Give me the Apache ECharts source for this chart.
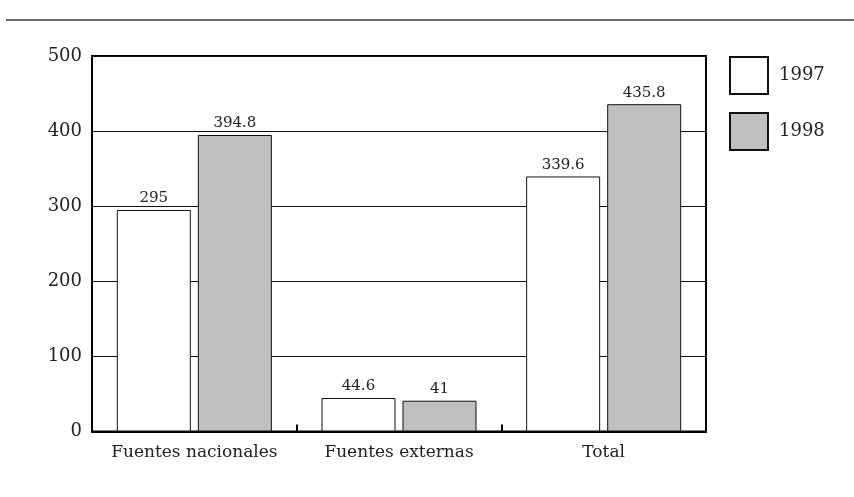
<!DOCTYPE html>
<html>
<head>
<meta charset="utf-8">
<script src="https://cdn.jsdelivr.net/npm/echarts@6/dist/echarts.min.js"></script>
<style>
  html, body { margin: 0; padding: 0; background: #fff; }
  #chart { width: 854px; height: 497px; }
</style>
</head>
<body>
<div id="chart"></div>
<script>
// Financing sources, 1997 vs 1998
const categories = ['Fuentes nacionales', 'Fuentes externas', 'Total'];
const values1997 = [295, 44.6, 339.6];
const values1998 = [394.8, 41, 435.8];
const seriesNames = ['1997', '1998'];

const FONT = '"DejaVu Serif", "Liberation Serif", serif';
const TEXT = '#222';

const chart = echarts.init(document.getElementById('chart'), null, { renderer: 'canvas' });

const barLabel = {
  show: true,
  position: 'top',
  distance: 4,
  fontFamily: FONT,
  fontSize: 15,
  color: TEXT
};

chart.setOption({
  animation: false,
  backgroundColor: '#fff',
  textStyle: { fontFamily: FONT },
  graphic: [{
    type: 'line',
    shape: { x1: 6, y1: 20, x2: 854, y2: 20 },
    style: { stroke: '#333', lineWidth: 1.5 },
    silent: true
  }],
  legend: {
    orient: 'vertical',
    left: 729,
    top: 56,
    padding: 0,
    itemWidth: 38,
    itemHeight: 37,
    itemGap: 17,
    icon: 'rect',
    textStyle: { fontFamily: FONT, fontSize: 18, color: TEXT, padding: [3, 0, 0, 6] },
    data: seriesNames
  },
  grid: {
    left: 92,
    right: 148,
    top: 56,
    bottom: 65.5,
    show: true,
    borderColor: '#000',
    borderWidth: 2,
    backgroundColor: 'transparent'
  },
  xAxis: {
    type: 'category',
    data: categories,
    axisLine: { lineStyle: { color: '#000', width: 2 } },
    axisTick: { show: true, inside: true, interval: 0, length: 7, lineStyle: { color: '#000', width: 2 } },
    axisLabel: { interval: 0, fontFamily: FONT, fontSize: 17, color: TEXT, margin: 13 }
  },
  yAxis: {
    type: 'value',
    min: 0,
    max: 500,
    interval: 100,
    axisLine: { show: true, lineStyle: { color: '#000', width: 2 } },
    axisTick: { show: false },
    axisLabel: { fontFamily: FONT, fontSize: 18, color: TEXT, margin: 10 },
    splitLine: { show: true, lineStyle: { color: '#111', width: 1 } }
  },
  series: [
    {
      name: seriesNames[0],
      type: 'bar',
      data: values1997,
      barWidth: 74,
      barGap: '9.5%',
      itemStyle: { color: '#fff', borderColor: '#111', borderWidth: 1 },
      label: barLabel
    },
    {
      name: seriesNames[1],
      type: 'bar',
      data: values1998,
      barWidth: 74,
      barGap: '9.5%',
      itemStyle: { color: '#c0c0c0', borderColor: '#111', borderWidth: 1 },
      label: barLabel
    }
  ]
});
</script>
</body>
</html>
